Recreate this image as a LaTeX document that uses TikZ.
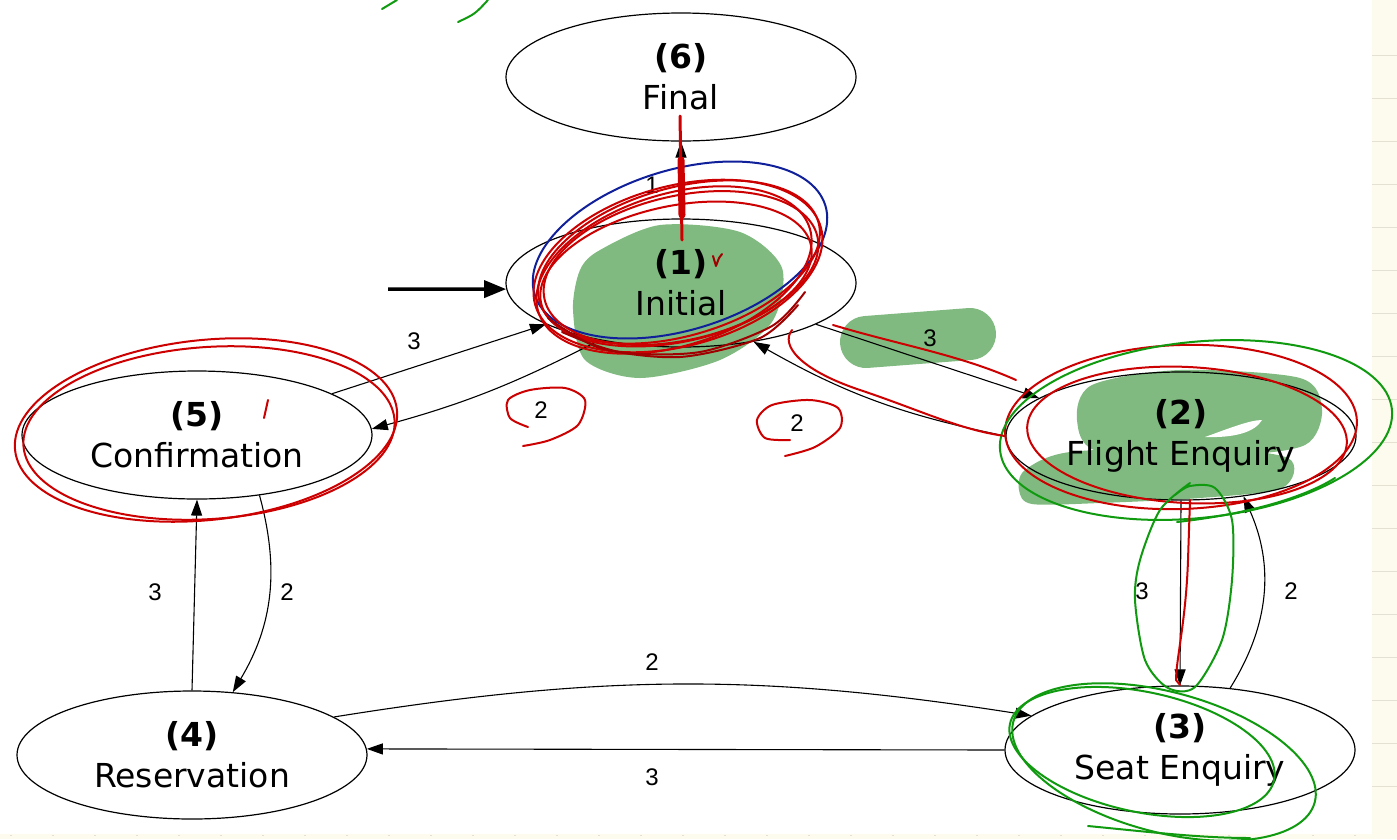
\documentclass[tikz,border=0pt]{standalone}
\usepackage{fontspec}
\usetikzlibrary{arrows.meta,shapes.geometric}
\newfontfamily\vfont{DejaVu Sans}
\newfontfamily\hfont{Liberation Sans}
\definecolor{hlgreen}{HTML}{80BA80}
\definecolor{penred}{HTML}{CC0000}
\definecolor{pendark}{HTML}{A00000}
\definecolor{penblue}{HTML}{10209A}
\definecolor{pengreen}{HTML}{109A10}
\definecolor{cream}{HTML}{FDFBEE}
\definecolor{ruleline}{HTML}{E4E1D2}
\begin{document}
\begin{tikzpicture}[x=1pt,y=-1pt,
  stt/.style={ellipse, draw=black, line width=1.2pt, minimum width=350pt, minimum height=128pt,
    inner sep=0pt, align=center, font=\vfont\fontsize{33}{41}\selectfont},
  conn/.style={draw=black, line width=1.1pt, -{Triangle[length=16pt,width=11pt]}},
  lab/.style={font=\hfont\fontsize{24}{28}\selectfont, inner sep=0pt},
  pen/.style={line width=2pt, line cap=round, line join=round},
]
% background
\useasboundingbox (0,0) rectangle (1397,839);
\fill[white] (0,0) rectangle (1397,839);
\fill[cream] (1372,0) rectangle (1397,839);
\foreach \yy in {55,98,141,184,227,270,313,356,399,442,485,528,571,614,657,700,743,786}
  \draw[ruleline, line width=1pt] (1372,\yy) -- (1397,\yy);
\fill[cream] (0,834) rectangle (1397,839);
\draw[ruleline, line width=1pt, dash pattern=on 2pt off 40pt] (10,835) -- (1372,835);

% highlighter blobs
\fill[hlgreen] plot[smooth cycle] coordinates {(600,250) (660,225) (740,232) (782,268) (772,322) (720,360) (640,378) (585,360) (573,310) (580,270)};
\draw[hlgreen, line width=52pt, line cap=round] (866,342) -- (970,334);
\fill[hlgreen] plot[smooth cycle] coordinates {(1092,385) (1180,370) (1300,378) (1322,410) (1305,445) (1230,455) (1100,452) (1077,420)};
\fill[hlgreen] plot[smooth cycle] coordinates {(1025,470) (1070,452) (1200,448) (1288,458) (1282,488) (1200,498) (1100,503) (1032,504) (1019,490)};
\fill[white] (1205,437) .. controls (1230,428) and (1250,420) .. (1262,420) .. controls (1255,432) and (1235,438) .. cycle;

% states
\node[stt] (n6) at (681,77) {\bfseries (6)\\Final};
\node[stt] (n1) at (681,283) {\bfseries (1)\\Initial};
\node[stt] (n5) at (197,435) {\bfseries (5)\\Confirmation};
\node[stt] (n2) at (1181,436) {\bfseries (2)\\Flight Enquiry};
\node[stt] (n3) at (1180,750) {\bfseries (3)\\Seat Enquiry};
\node[stt] (n4) at (192,755) {\bfseries (4)\\Reservation};

% start arrow
\coordinate (st) at (388,289);
\draw[line width=3.5pt, -{Triangle[length=22pt,width=17pt]}] (st) -- (n1.182);

% transitions
\draw[conn] (n1.north) -- (n6.south);
\draw[conn] (n5.17) -- (n1.197);
\draw[conn] (n1.215) to[bend left=6] (n5.2);
\draw[conn] (n1.343) -- (n2.165);
\draw[conn] (n2.180) to[bend left=9] (n1.321);
\draw[conn] (n2.south) -- (n3.north);
\draw[conn] (n3.51) to[bend right=28] (n2.316);
\draw[conn] (n4.15) to[bend left=9] (n3.167);
\draw[conn] (n3.west) -- (n4.2);
\draw[conn] (n4.north) -- (n5.south);
\draw[conn] (n5.316) to[bend left=23] (n4.57);

% labels
\node[lab] (l16) at (652,185) {1};
\node[lab] (l51) at (414,341) {3};
\node[lab] (l15) at (541,410) {2};
\node[lab] (l12) at (930,338) {3};
\node[lab] (l21) at (797,423) {2};
\node[lab] (l45) at (155,592) {3};
\node[lab] (l54) at (287,592) {2};
\node[lab] (l23) at (1142,591) {3};
\node[lab] (l32) at (1291,591) {2};
\node[lab] (l43) at (652,662) {2};
\node[lab] (l34) at (652,777) {3};

% ---- hand annotations ----
% around (1)
\draw[pen,penblue,rotate around={17:(680,250)}] (680,250) ellipse [x radius=152pt, y radius=80pt];
\foreach \cx/\cy/\rx/\ry/\ang in {678/266/148pt/80pt/15, 674/270/142pt/76pt/17, 681/268/140pt/72pt/13, 676/274/138pt/68pt/12, 679/262/145pt/74pt/16}
  \draw[pen,penred,rotate around={\ang:(\cx,\cy)}] (\cx,\cy) ellipse [x radius=\rx, y radius=\ry];
\draw[pen,pendark] plot[smooth] coordinates {(548,318) (600,348) (680,357) (760,338) (798,305)};
\draw[pen,pendark] plot[smooth] coordinates {(562,332) (620,352) (700,352) (772,326) (805,292)};
\draw[penred, line width=3pt, line cap=round] (680,116) -- (682,240);
\draw[penred, line width=7pt, line cap=round] (681,160) -- (682,215);
\draw[pen,pendark] (713,256) -- (716,266) -- (719,258) -- (722,254);
% around (5)
\draw[pen,penred,rotate around={6:(206,430)}] (206,430) ellipse [x radius=192pt, y radius=90pt];
\draw[pen,penred,rotate around={4:(209,433)}] (209,433) ellipse [x radius=186pt, y radius=86pt];
\draw[pen,penred] (264,418) -- (268,400);
% circles round two labels
\draw[pen,penred] plot[smooth] coordinates {(528,427) (510,418) (508,400) (530,390) (565,388) (585,400) (578,425) (550,440) (523,446)};
\draw[pen,penred] plot[smooth] coordinates {(790,440) (765,438) (757,420) (772,405) (810,400) (838,408) (840,428) (815,447) (785,456)};
% around (2)
\draw[pen,penred,rotate around={2:(1181,427)}] (1181,427) ellipse [x radius=176pt, y radius=82pt];
\draw[pen,penred,rotate around={-3:(1187,435)}] (1187,435) ellipse [x radius=160pt, y radius=68pt];
\draw[pen,pengreen,rotate around={6:(1196,430)}] (1196,430) ellipse [x radius=197pt, y radius=88pt];
\draw[pen,penred] (833,325) .. controls (900,345) and (960,355) .. (1016,380);
\draw[pen,penred] (792,330) .. controls (780,345) and (800,370) .. (860,390) .. controls (920,410) and (960,430) .. (1005,436);
% around 2 -> 3 and (3)
\draw[pen,pengreen] plot[smooth] coordinates {(1190,483) (1160,510) (1140,560) (1135,600) (1145,660) (1168,688) (1195,687) (1222,640) (1232,580) (1232,520) (1215,488) (1190,486) (1175,495)};
\draw[pen,pengreen] (1177,522) .. controls (1240,515) and (1300,500) .. (1335,478);
\draw[pen,penred] (1190,500) -- (1188,560) .. controls (1186,620) and (1176,660) .. (1176,680) -- (1180,685);
\draw[pen,pengreen,rotate around={-12:(1142,752)}] (1142,752) ellipse [x radius=135pt, y radius=60pt];
\draw[pen,pengreen,rotate around={-15:(1164,762)}] (1164,762) ellipse [x radius=156pt, y radius=70pt];
\draw[pen,pengreen] (1088,826) .. controls (1150,832) and (1200,838) .. (1250,838);
% top-left marks
\draw[pen,pengreen] (382,9) -- (397,0);
\draw[pen,pengreen] (458,22) .. controls (475,14) .. (488,0);
\end{tikzpicture}
\end{document}
